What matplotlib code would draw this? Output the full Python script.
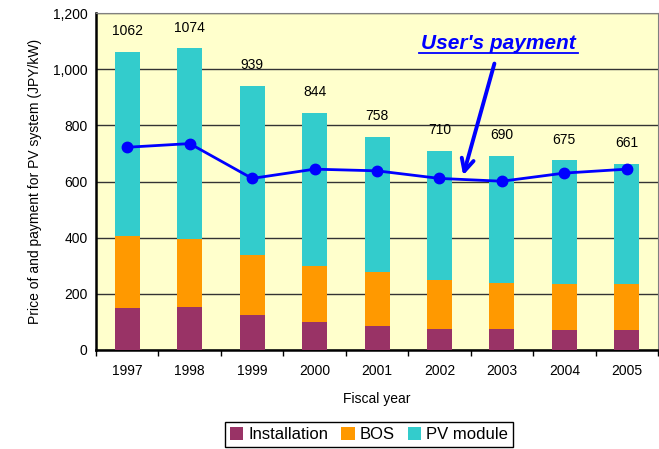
import numpy as np
import matplotlib
matplotlib.use("Agg")
from matplotlib import pyplot as plt
from matplotlib.ticker import FuncFormatter

plt.rcParams['font.family'] = ['Liberation Sans', 'DejaVu Sans']

years = ["1997", "1998", "1999", "2000", "2001", "2002", "2003", "2004", "2005"]
totals = [1062, 1074, 939, 844, 758, 710, 690, 675, 661]
installation = [150, 154, 125, 100, 86, 75, 75, 71, 71]
bos = [256, 243, 214, 199, 192, 174, 165, 164, 164]
payment = [722, 735, 611, 644, 638, 611, 601, 630, 644]

inst = np.array(installation)
b = np.array(bos)
pv = np.array(totals) - inst - b

fig = plt.figure(figsize=(6.59, 4.49), dpi=100)
ax = fig.add_axes([0.1457, 0.2205, 0.8528, 0.7505])
ax.set_facecolor("#FFFFCC")

x = np.arange(len(years))
w = 0.4
ax.bar(x, inst, w, color="#993366", label="Installation", zorder=3)
ax.bar(x, b, w, bottom=inst, color="#FF9900", label="BOS", zorder=3)
ax.bar(x, pv, w, bottom=inst + b, color="#33CCCC", label="PV module", zorder=3)

ax.plot(x, payment, color="#0000FF", lw=2, marker="o", ms=7.5, zorder=4)

for i, t in enumerate(totals):
    ax.annotate(str(t), (x[i], t), xytext=(0, 10), textcoords="offset points",
                ha="center", va="bottom", fontsize=10)

ax.text(5.94, 1093, "User's payment", ha="center", va="center",
        color="#0000FF", fontsize=15, fontweight="bold", fontstyle="italic", zorder=5)
ax.annotate("", xy=(5.38, 622), xytext=(5.88, 1020),
            arrowprops=dict(arrowstyle="->", color="#0000FF", lw=2.8,
                            mutation_scale=22, shrinkA=0, shrinkB=0), zorder=5)
# underline
ax.plot([4.68, 7.22], [1057, 1057], color="#0000FF", lw=1.3, zorder=5)

ax.set_xlim(-0.5, len(years) - 0.5)
ax.set_ylim(0, 1200)
ax.set_yticks(np.arange(0, 1201, 200))
ax.yaxis.set_major_formatter(FuncFormatter(lambda v, p: f"{int(v):,}"))
ax.yaxis.grid(True, color="#333333", lw=1, zorder=1)
ax.tick_params(axis="y", length=0, labelsize=10, pad=6)
ax.set_xticks(x)
ax.set_xticklabels(years, fontsize=10)
ax.tick_params(axis="x", length=0, pad=10)
ax.set_xticks(np.arange(-0.5, len(years), 1), minor=True)
ax.tick_params(axis="x", which="minor", length=4, width=1, color="black")

for s in ["left", "bottom"]:
    ax.spines[s].set_linewidth(1.8)
    ax.spines[s].set_color("black")
for s in ["top", "right"]:
    ax.spines[s].set_color("#808080")

ax.set_ylabel("Price of and payment for PV system (JPY/kW)", fontsize=10, labelpad=8)
ax.set_xlabel("Fiscal year", fontsize=10, labelpad=10)

fig.legend(loc="upper center", bbox_to_anchor=(0.56, 0.06), ncol=3, fontsize=12,
           frameon=True, fancybox=False, edgecolor="black", framealpha=1,
           handlelength=0.8, handleheight=0.8, handletextpad=0.3,
           columnspacing=0.8, borderpad=0.3, borderaxespad=0)

fig.savefig("out.png", dpi=100)
